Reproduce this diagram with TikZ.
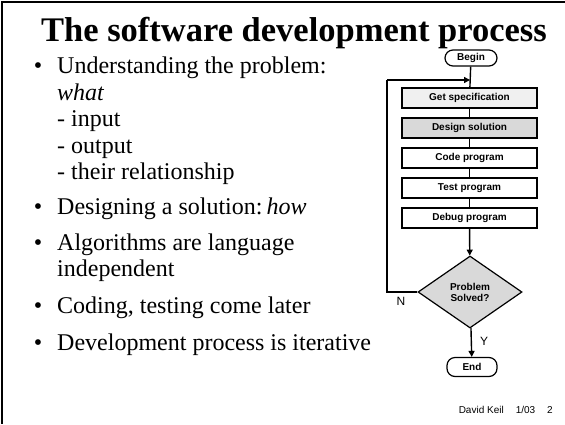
\documentclass[tikz,border=0pt]{standalone}
\usepackage{fontspec}
\setmainfont{Liberation Serif}
\setsansfont{Liberation Sans}
\usetikzlibrary{shapes.geometric,arrows.meta}
\begin{document}
\begin{tikzpicture}[x=1pt,y=-1pt,
  body/.style={anchor=base west,inner sep=0pt,font=\fontsize{24}{24}\selectfont},
  dot/.style={anchor=base,inner sep=0pt,font=\fontsize{24}{24}\selectfont},
  chart/.style={font=\sffamily\bfseries\fontsize{10}{11}\selectfont},
  stepbox/.style={chart,draw,line width=1.2pt,minimum width=135pt,minimum height=20pt,inner sep=0pt},
  terminal/.style={chart,draw,line width=1.2pt,rounded corners=8pt,minimum height=16pt,inner sep=0pt},
  flow/.style={line width=1.4pt},
  arr/.style={flow,-{Triangle[length=6pt,width=6pt]}},
  yn/.style={inner sep=0pt,font=\sffamily\fontsize{12}{12}\selectfont}]
\useasboundingbox (0,0) rectangle (565,424);
\fill[white] (0,0) rectangle (565,424);
% slide frame
\draw[line width=2pt] (565,1.5) -- (1.5,1.5) -- (1.5,424);

% title
\node[inner sep=0pt,anchor=base,font=\bfseries\fontsize{34.5}{35}\selectfont] (title) at (294,41)
  {The software development process};

% bullet list
\node[dot] (b1) at (38,73) {\textbullet};
\node[body] (t1) at (57,73) {Understanding the problem:};
\node[body] (t2) at (57,100) {\itshape what};
\node[body] (t3) at (57,126) {- input};
\node[body] (t4) at (57,153) {- output};
\node[body] (t5) at (57,179) {- their relationship};
\node[dot] (b2) at (38,214) {\textbullet};
\node[body] (t6) at (57,214) {Designing a solution:\,\textit{how}};
\node[dot] (b3) at (38,250) {\textbullet};
\node[body] (t7) at (57,250) {Algorithms are language};
\node[body] (t8) at (57,276) {independent};
\node[dot] (b4) at (38,313) {\textbullet};
\node[body] (t9) at (57,313) {Coding, testing come later};
\node[dot] (b5) at (38,350) {\textbullet};
\node[body] (t10) at (57,350) {Development process is iterative};

% flowchart
\node[terminal,minimum width=52pt] (begin) at (471,58) {Begin};
\node[stepbox,fill=gray!12] (s1) at (469.5,98) {Get specification};
\node[stepbox,fill=gray!30] (s2) at (469.5,128) {Design solution};
\node[stepbox] (s3) at (469.5,158) {Code program};
\node[stepbox] (s4) at (469.5,188) {Test program};
\node[stepbox] (s5) at (469.5,218) {Debug program};
\node[chart,diamond,draw,line width=1.2pt,fill=gray!30,minimum width=104pt,minimum height=72pt,
  inner sep=0pt,align=center] (dec) at (470,292) {Problem\\Solved?};
\node[terminal,minimum width=50pt,minimum height=19pt] (end) at (472,367) {End};
\coordinate (loopA) at (387,292);
\coordinate (loopB) at (387,80);
\coordinate (join) at (470,80);

\draw[flow] (begin) -- (s1);
\draw[flow] (s1) -- (s2);
\draw[flow] (s2) -- (s3);
\draw[flow] (s3) -- (s4);
\draw[flow] (s4) -- (s5);
\draw[arr] (s5) -- (dec);
\draw[arr] (dec) -- (end);
\draw[flow] (dec.west) -- (loopA) -- (loopB);
\draw[arr] (loopB) -- (join);
\node[yn] (n) at (401,301) {N};
\node[yn] (y) at (484,341) {Y};

% footer
\node[inner sep=0pt,anchor=base east,font=\sffamily\fontsize{10}{10}\selectfont] (foot) at (553,413)
  {David Keil\hspace{12pt}1/03\hspace{12pt}2};
\end{tikzpicture}
\end{document}
